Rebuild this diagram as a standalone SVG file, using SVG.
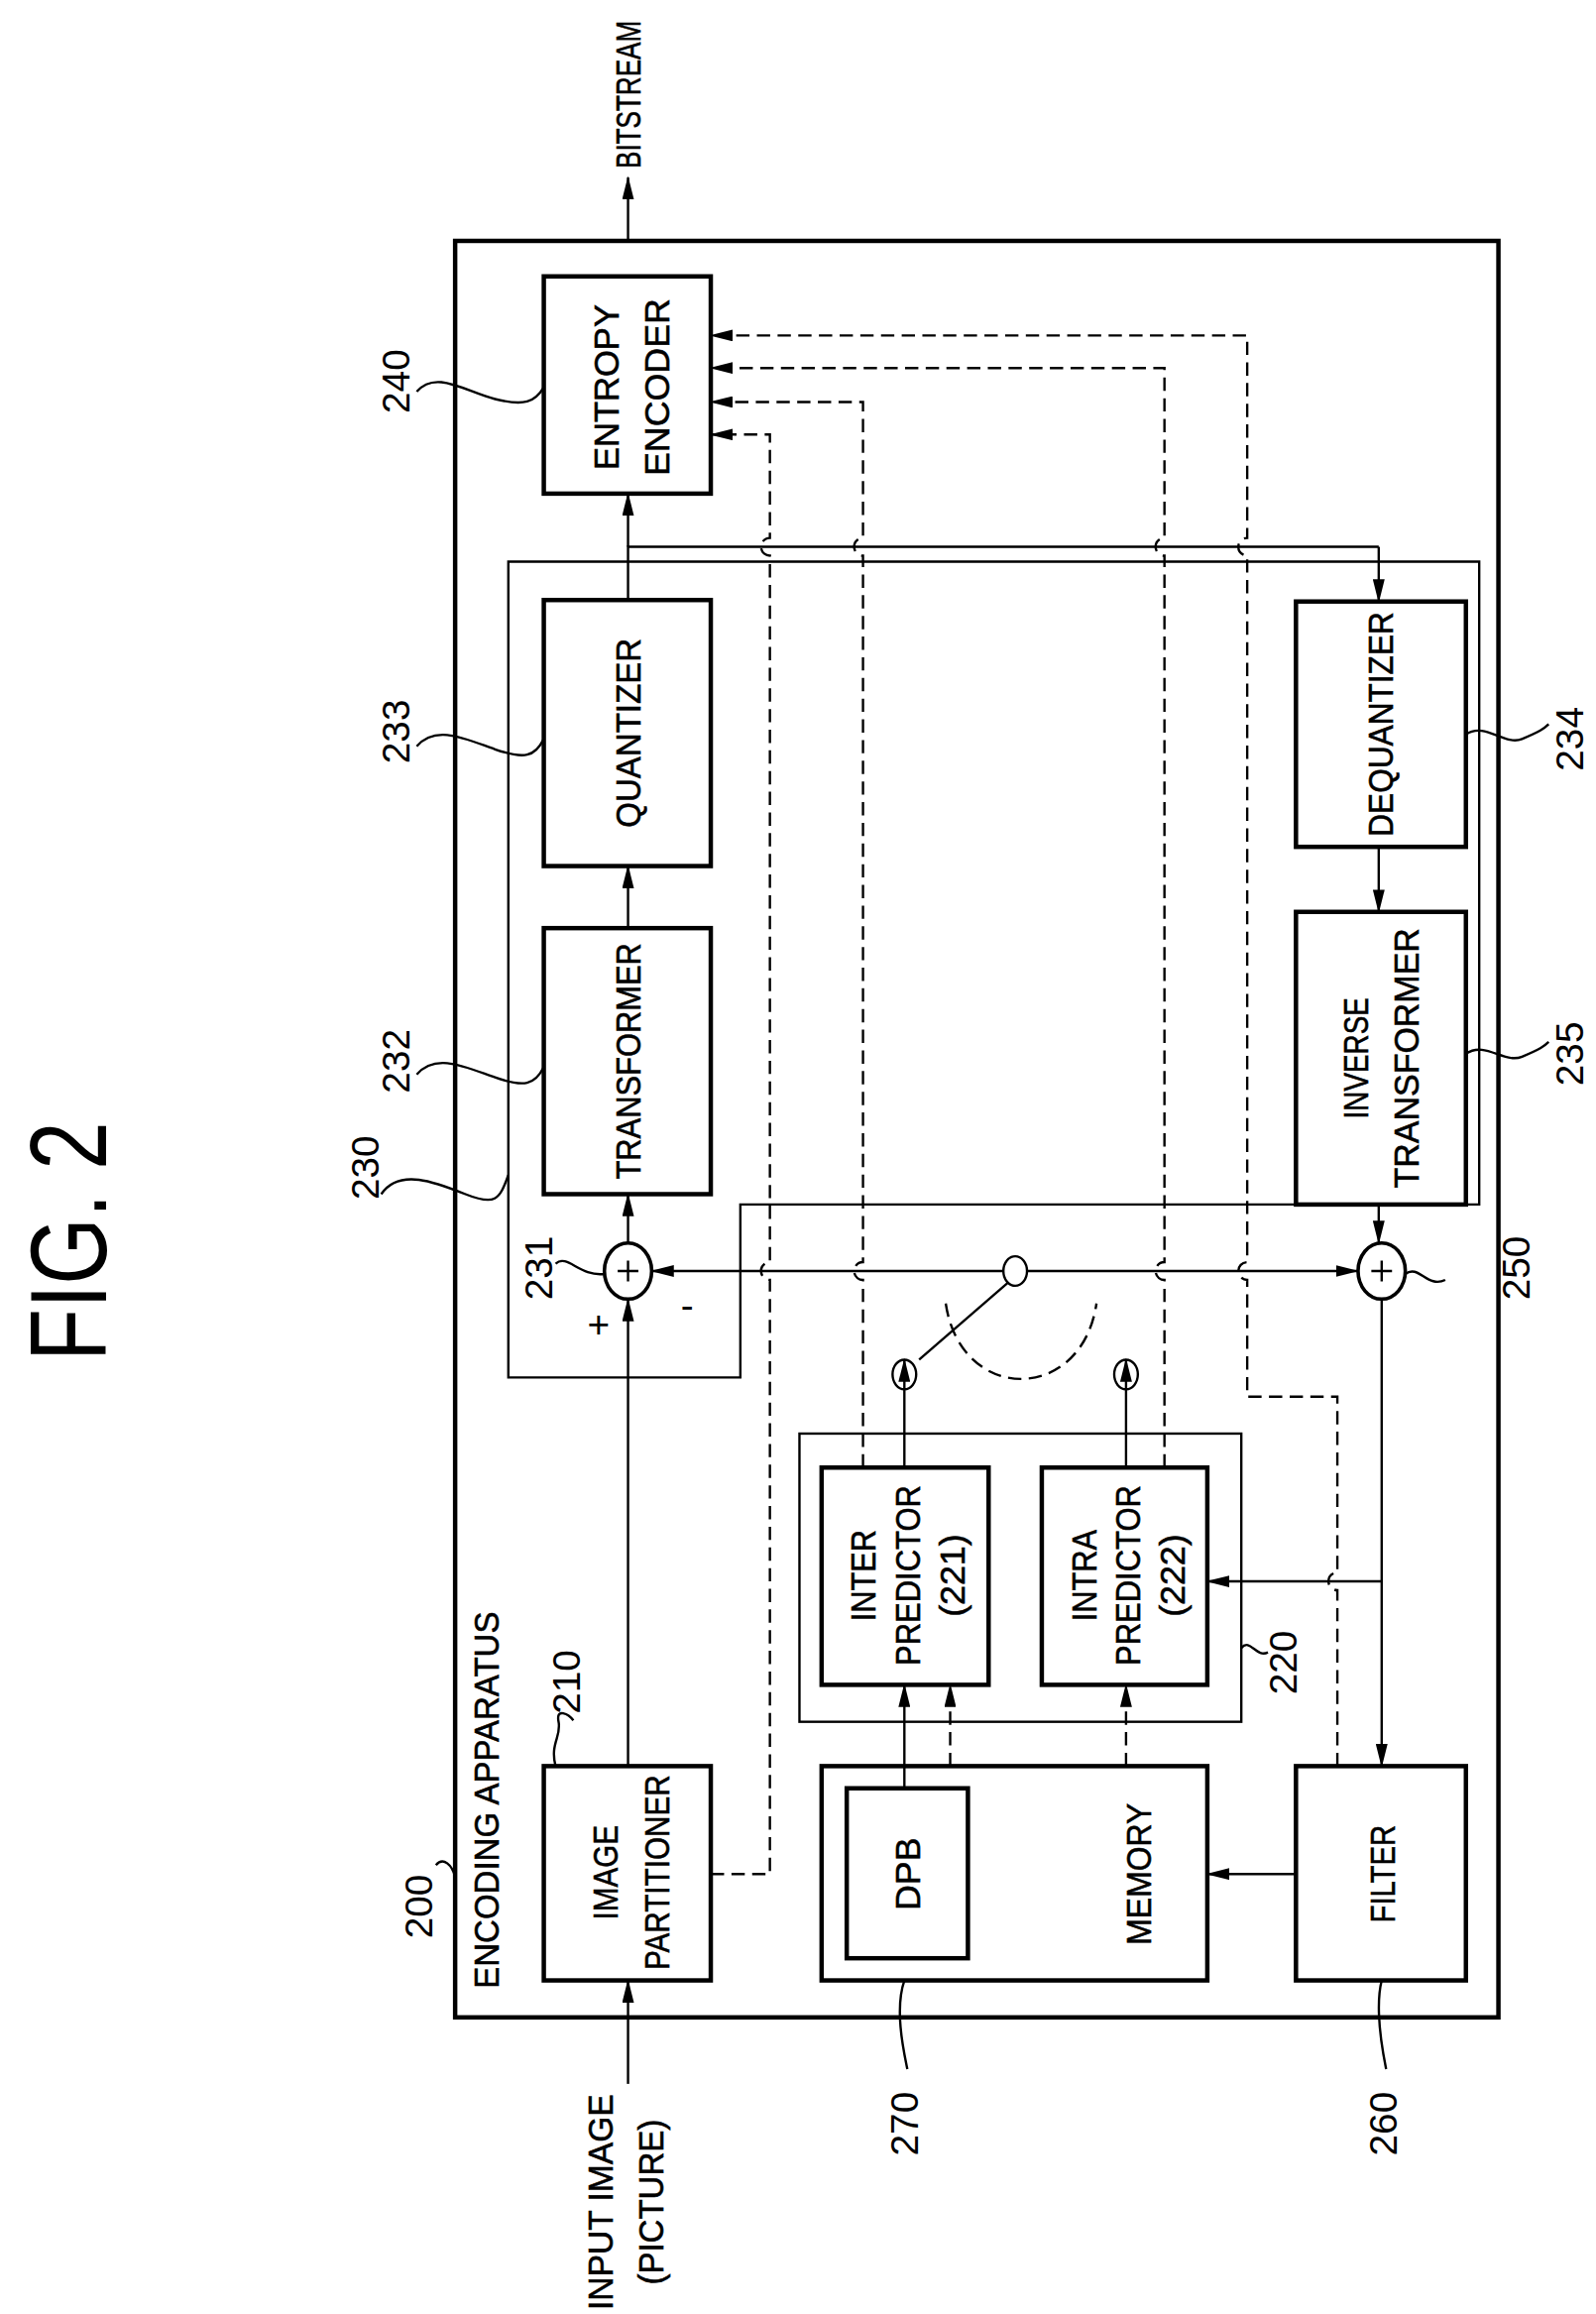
<svg xmlns="http://www.w3.org/2000/svg" width="1610" height="2334" viewBox="0 0 1610 2334">
<style>
.t{font-family:"Liberation Sans",Arial,sans-serif;font-size:24px;fill:#000;text-anchor:middle;stroke:#000;stroke-width:0.4}
.n{font-family:"Liberation Sans",Arial,sans-serif;font-size:26px;fill:#000;text-anchor:middle}
.b{fill:none;stroke:#000;stroke-width:3}
.c{fill:none;stroke:#000;stroke-width:1.6}
.l{fill:none;stroke:#000;stroke-width:1.6}
.d{fill:none;stroke:#000;stroke-width:1.6;stroke-dasharray:9 5}
.a{marker-end:url(#ar)}
</style>
<defs>
<marker id="ar" markerUnits="userSpaceOnUse" markerWidth="16" markerHeight="8" refX="15" refY="4" orient="auto"><path d="M0,0 L16,4 L0,8 z" fill="#000"/></marker>
</defs>
<rect width="1610" height="2334" fill="#fff"/>
<g transform="scale(1.4907)">
<text class="t" style="font-size:74px;stroke-width:0" transform="translate(45,840) rotate(-90)" dy="0.36em" textLength="162" lengthAdjust="spacingAndGlyphs">FIG. 2</text>
<g id="outer">
<rect class="b" x="308" y="163" width="706" height="1202"/>
<text class="t" transform="translate(329,1218) rotate(-90)" dy="0.36em" textLength="255" lengthAdjust="spacingAndGlyphs">ENCODING APPARATUS</text>
<text class="n" transform="translate(283,1290) rotate(-90)" dy="0.36em">200</text>
<path class="l" d="M295 1262 C300 1256 306 1262 308 1270"/>
</g>
<g id="box230"><path class="c" d="M344 380 H1001 V815 H501 V932 H344 Z"/>
<text class="n" transform="translate(247,790) rotate(-90)" dy="0.36em">230</text>
<path class="l" d="M258 808 C270 790 295 800 315 808 S338 812 344 795"/></g>
<g id="box220"><rect class="c" x="541" y="970" width="299" height="195"/>
<text class="n" transform="translate(868,1125) rotate(-90)" dy="0.36em">220</text>
<path class="l" d="M840 1115 C846 1108 850 1122 858 1118"/></g>
<g id="n240"><rect class="b" x="368" y="187" width="113" height="147"/>
<text class="t" transform="translate(410,262) rotate(-90)" dy="0.36em" textLength="112" lengthAdjust="spacingAndGlyphs">ENTROPY</text>
<text class="t" transform="translate(444,262) rotate(-90)" dy="0.36em" textLength="120" lengthAdjust="spacingAndGlyphs">ENCODER</text>
<text class="n" transform="translate(268,258) rotate(-90)" dy="0.36em">240</text>
<path class="l" d="M282 265 C295 250 315 265 335 270 S362 272 368 262"/></g>
<g id="n233"><rect class="b" x="368" y="406" width="113" height="180"/>
<text class="t" transform="translate(425,496) rotate(-90)" dy="0.36em" textLength="128" lengthAdjust="spacingAndGlyphs">QUANTIZER</text>
<text class="n" transform="translate(268,495) rotate(-90)" dy="0.36em">233</text>
<path class="l" d="M282 505 C295 490 315 500 335 507 S362 512 368 500"/></g>
<g id="n232"><rect class="b" x="368" y="628" width="113" height="180"/>
<text class="t" transform="translate(425,718) rotate(-90)" dy="0.36em" textLength="160" lengthAdjust="spacingAndGlyphs">TRANSFORMER</text>
<text class="n" transform="translate(268,718) rotate(-90)" dy="0.36em">232</text>
<path class="l" d="M282 727 C295 712 315 722 335 729 S362 734 368 722"/></g>
<g id="n234"><rect class="b" x="877" y="407" width="115" height="166"/>
<text class="t" transform="translate(934,490) rotate(-90)" dy="0.36em" textLength="152" lengthAdjust="spacingAndGlyphs">DEQUANTIZER</text>
<text class="n" transform="translate(1062,500) rotate(-90)" dy="0.36em">234</text>
<path class="l" d="M992 497 C1005 488 1018 505 1030 500 S1045 493 1048 490"/></g>
<g id="n235"><rect class="b" x="877" y="617" width="115" height="198"/>
<text class="t" transform="translate(917,716) rotate(-90)" dy="0.36em" textLength="82" lengthAdjust="spacingAndGlyphs">INVERSE</text>
<text class="t" transform="translate(951,716) rotate(-90)" dy="0.36em" textLength="176" lengthAdjust="spacingAndGlyphs">TRANSFORMER</text>
<text class="n" transform="translate(1062,713) rotate(-90)" dy="0.36em">235</text>
<path class="l" d="M992 713 C1005 704 1018 720 1030 715 S1045 708 1048 705"/></g>
<g id="n231"><ellipse class="c" style="stroke-width:2.4" cx="425" cy="860" rx="16" ry="19"/>
<path class="l" d="M418 860 H432 M425 853 V867"/>
<text class="n" transform="translate(364,858) rotate(-90)" dy="0.36em">231</text>
<path class="l" d="M376 855 C384 848 392 864 409 862"/>
<text class="n" x="405" y="905">+</text>
<text class="n" x="465" y="892">-</text></g>
<g id="n250"><ellipse class="c" style="stroke-width:2.4" cx="935" cy="860" rx="16" ry="19"/>
<path class="l" d="M928 860 H942 M935 853 V867"/>
<text class="n" transform="translate(1026,858) rotate(-90)" dy="0.36em">250</text>
<path class="l" d="M951 862 C960 855 966 872 978 866"/></g>
<g id="n221"><rect class="b" x="556" y="993" width="113" height="147"/>
<text class="t" transform="translate(584,1066) rotate(-90)" dy="0.36em" textLength="62" lengthAdjust="spacingAndGlyphs">INTER</text>
<text class="t" transform="translate(614,1066) rotate(-90)" dy="0.36em" textLength="122" lengthAdjust="spacingAndGlyphs">PREDICTOR</text>
<text class="t" transform="translate(644,1066) rotate(-90)" dy="0.36em">(221)</text></g>
<g id="n222"><rect class="b" x="705" y="993" width="112" height="147"/>
<text class="t" transform="translate(733,1066) rotate(-90)" dy="0.36em" textLength="62" lengthAdjust="spacingAndGlyphs">INTRA</text>
<text class="t" transform="translate(763,1066) rotate(-90)" dy="0.36em" textLength="122" lengthAdjust="spacingAndGlyphs">PREDICTOR</text>
<text class="t" transform="translate(793,1066) rotate(-90)" dy="0.36em">(222)</text></g>
<g id="n210"><rect class="b" x="368" y="1195" width="113" height="145"/>
<text class="t" transform="translate(409,1267) rotate(-90)" dy="0.36em" textLength="64" lengthAdjust="spacingAndGlyphs">IMAGE</text>
<text class="t" transform="translate(444,1267) rotate(-90)" dy="0.36em" textLength="132" lengthAdjust="spacingAndGlyphs">PARTITIONER</text>
<text class="n" transform="translate(383,1138) rotate(-90)" dy="0.36em">210</text>
<path class="l" d="M376 1195 C372 1180 380 1175 378 1165 S385 1160 388 1164"/></g>
<g id="n270"><rect class="b" x="556" y="1195" width="261" height="145"/>
<rect class="b" x="573" y="1210" width="82" height="115"/>
<text class="t" transform="translate(614,1268) rotate(-90)" dy="0.36em">DPB</text>
<text class="t" transform="translate(770,1268) rotate(-90)" dy="0.36em" textLength="96" lengthAdjust="spacingAndGlyphs">MEMORY</text>
<text class="n" transform="translate(612,1437) rotate(-90)" dy="0.36em">270</text>
<path class="l" d="M612 1340 C605 1360 612 1390 614 1400"/></g>
<g id="n260"><rect class="b" x="877" y="1195" width="115" height="145"/>
<text class="t" transform="translate(935,1268) rotate(-90)" dy="0.36em" textLength="66" lengthAdjust="spacingAndGlyphs">FILTER</text>
<text class="n" transform="translate(936,1437) rotate(-90)" dy="0.36em">260</text>
<path class="l" d="M935 1340 C930 1360 936 1390 938 1400"/></g>
<g id="labels">
<text class="t" transform="translate(425,64) rotate(-90)" dy="0.36em" textLength="100" lengthAdjust="spacingAndGlyphs">BITSTREAM</text>
<text class="t" transform="translate(406,1490) rotate(-90)" dy="0.36em" textLength="146" lengthAdjust="spacingAndGlyphs">INPUT IMAGE</text>
<text class="t" transform="translate(440,1490) rotate(-90)" dy="0.36em" textLength="112" lengthAdjust="spacingAndGlyphs">(PICTURE)</text>
</g>
<g id="switch">
<ellipse class="c" cx="687" cy="860" rx="8" ry="10"/>
<ellipse class="c" cx="612" cy="930" rx="8" ry="10"/>
<ellipse class="c" cx="762" cy="930" rx="8" ry="10"/>
<path class="l" d="M682 868 L622 920"/>
<path class="d" d="M640 882 C650 950 732 950 742 882"/>
</g>
<g id="connectors">
<path class="l a" d="M425 163 V120"/>
<path class="l a" d="M425 370 V334"/>
<path class="l" d="M425 406 V370 H933"/>
<path class="l a" d="M933 370 V407"/>
<path class="l a" d="M425 628 V586"/>
<path class="l a" d="M425 841 V808"/>
<path class="l a" d="M425 1195 V879"/>
<path class="l a" d="M425 1410 V1340"/>
<path class="l a" d="M679 860 H441"/>
<path class="l a" d="M695 860 H919"/>
<path class="l a" d="M933 573 V617"/>
<path class="l a" d="M933 815 V841"/>
<path class="l a" d="M935 879 V1195"/>
<path class="l a" d="M935 1070 H817"/>
<path class="l a" d="M877 1268 H817"/>
<path class="l a" d="M612 993 V920"/>
<path class="l a" d="M762 993 V920"/>
<path class="l a" d="M612 1210 V1140"/>
<path class="d a" d="M643 1195 V1140"/>
<path class="d a" d="M762 1195 V1140"/>
<path class="d a" d="M481 1268 H521 V866 a6 6 0 0 1 0 -12 V376 a6 6 0 0 1 0 -12 V294 H481"/>
<path class="d a" d="M584 993 V866 a6 6 0 0 1 0 -12 V376 a6 6 0 0 1 0 -12 V272 H481"/>
<path class="d a" d="M788 993 V866 a6 6 0 0 1 0 -12 V376 a6 6 0 0 1 0 -12 V249 H481"/>
<path class="d a" d="M905 1195 V1076 a6 6 0 0 1 0 -12 V945 H844 V866 a6 6 0 0 1 0 -12 V376 a6 6 0 0 1 0 -12 V227 H481"/>
</g>
</g>
</svg>
